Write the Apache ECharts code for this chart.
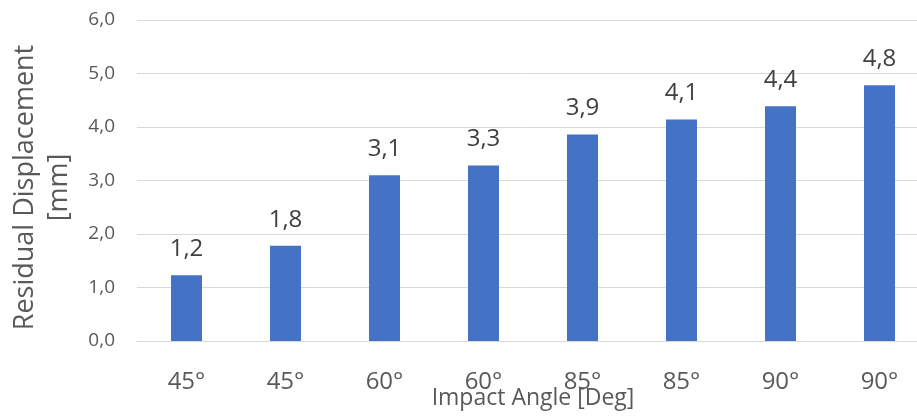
<!DOCTYPE html>
<html>
<head>
<meta charset="utf-8">
<script src="https://cdn.jsdelivr.net/npm/echarts@6/dist/echarts.min.js"></script>
<style>
  html, body { margin: 0; padding: 0; background: #fff; }
  #chart { width: 917px; height: 416px; }
</style>
</head>
<body>
<div id="chart"></div>
<script>
// Impact angle per test specimen
const categories = ['45°', '45°', '60°', '60°', '85°', '85°', '90°', '90°'];
// Residual displacement in mm
const displacement = [1.23, 1.78, 3.10, 3.28, 3.86, 4.14, 4.39, 4.78];
// Value axis range
const yMin = 0, yMax = 6, yStep = 1;

const FONT = 'Open Sans';
const fmt = v => v.toFixed(1).replace('.', ',');

const chart = echarts.init(document.getElementById('chart'), null, { renderer: 'canvas' });
chart.setOption({
  animation: false,
  textStyle: { fontFamily: FONT },
  grid: {
    left: 137, right: -12, top: 20, bottom: 75,
    containLabel: false,
    outerBoundsMode: 'none'
  },
  xAxis: {
    type: 'category',
    data: categories,
    axisLine: { lineStyle: { color: '#d9d9d9', width: 1 } },
    axisTick: { show: false },
    axisLabel: { color: '#595959', fontSize: 24, fontFamily: FONT, margin: 29 },
    name: 'Impact Angle [Deg]',
    nameLocation: 'middle',
    nameMoveOverlap: false,
    nameGap: 46,
    nameTextStyle: { color: '#595959', fontSize: 23, fontFamily: FONT }
  },
  yAxis: {
    type: 'value',
    min: yMin, max: yMax, interval: yStep,
    axisLine: { show: false },
    axisTick: { show: false },
    splitLine: { lineStyle: { color: '#d9d9d9', width: 1 } },
    axisLabel: { color: '#595959', fontSize: 19, fontFamily: FONT, margin: 22, formatter: fmt },
    name: 'Residual Displacement\n[mm]',
    nameLocation: 'middle',
    nameRotate: 90,
    nameGap: 61,
    nameTextStyle: {
      color: '#595959', fontSize: 27, fontFamily: FONT, lineHeight: 34, align: 'center',
      padding: [0, 14, 0, 0]
    }
  },
  series: [{
    type: 'bar',
    data: displacement,
    barWidth: 31,
    itemStyle: { color: '#4472c4' },
    label: {
      show: true,
      position: 'top',
      distance: 14,
      color: '#404040',
      fontSize: 24,
      fontFamily: FONT,
      formatter: p => fmt(p.value)
    }
  }]
});
</script>
</body>
</html>
